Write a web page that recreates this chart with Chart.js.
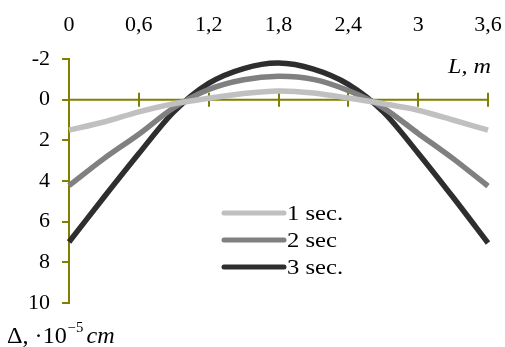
<!DOCTYPE html>
<html>
<head>
<meta charset="utf-8">
<script src="https://cdn.jsdelivr.net/npm/chart.js@4"></script>
<style>
  html, body { margin: 0; padding: 0; background: #fff; }
  #wrap { width: 505px; height: 347px; position: relative; }
</style>
</head>
<body>
<div id="wrap"><canvas id="deflChart"></canvas></div>
<script>
// L, m
const xs = [0, 0.3, 0.6, 0.9, 1.2, 1.5, 1.8, 2.1, 2.4, 2.7, 3.0, 3.3, 3.6];
// deflection, 10^-5 cm
const sec1 = [1.5, 1.1, 0.6, 0.2, -0.07, -0.3, -0.43, -0.33, -0.08, 0.2, 0.52, 1.0, 1.5];
const sec2 = [4.23, 2.9, 1.7, 0.4, -0.5, -0.98, -1.15, -1.0, -0.45, 0.4, 1.66, 2.9, 4.25];
const sec3 = [7.0, 4.8, 2.65, 0.6, -0.8, -1.53, -1.8, -1.5, -0.75, 0.6, 2.63, 4.8, 7.05];
const seriesLabels = ['1 sec.', '2 sec', '3 sec.'];

const xTicks = [0, 0.6, 1.2, 1.8, 2.4, 3, 3.6];
const xTickLabels = ['0', '0,6', '1,2', '1,8', '2,4', '3', '3,6'];
const yTicks = [-2, 0, 2, 4, 6, 8, 10];
const yTickLabels = ['-2', '0', '2', '4', '6', '8', '10'];

const olive = '#808000';
const serif = '"Liberation Serif", "Times New Roman", serif';

Chart.defaults.font.family = serif;
Chart.defaults.color = '#000';

function pts(vals) {
    return xs.map((x, i) => ({ x: x, y: vals[i] }));
}

// text stretched a little wider, like the original
function wideText(ctx, txt, x, y, sx) {
    ctx.save();
    ctx.translate(x, y);
    ctx.scale(sx, 1);
    ctx.fillText(txt, 0, 0);
    const w = ctx.measureText(txt).width * sx;
    ctx.restore();
    return w;
}

// x axis line drawn through y = 0 with crossing ticks
const zeroAxis = {
    id: 'zeroAxis',
    beforeDatasetsDraw(chart) {
        const ctx = chart.ctx;
        const xS = chart.scales.x, yS = chart.scales.y;
        const y0 = yS.getPixelForValue(0);
        ctx.save();
        ctx.strokeStyle = olive;
        ctx.lineWidth = 2;
        ctx.beginPath();
        ctx.moveTo(xS.getPixelForValue(xTicks[0]), y0);
        ctx.lineTo(xS.getPixelForValue(xTicks[xTicks.length - 1]) + 1, y0);
        xTicks.forEach(v => {
            const px = Math.round(xS.getPixelForValue(v));
            ctx.moveTo(px, y0 - 7);
            ctx.lineTo(px, y0 + 7);
        });
        ctx.stroke();
        ctx.restore();
    }
};

// legend inside the plot + axis captions
const captions = {
    id: 'captions',
    afterDraw(chart) {
        const ctx = chart.ctx;
        ctx.save();
        ctx.fillStyle = '#000';
        // legend
        chart.data.datasets.forEach((ds, i) => {
            const y = 213 + i * 27;
            ctx.strokeStyle = ds.borderColor;
            ctx.lineWidth = 5;
            ctx.lineCap = 'round';
            ctx.beginPath();
            ctx.moveTo(224, y);
            ctx.lineTo(284, y);
            ctx.stroke();
            ctx.font = '22px ' + serif;
            ctx.textBaseline = 'middle';
            ctx.textAlign = 'left';
            wideText(ctx, ds.label, 287, y + 1, 1.12);
        });
        // L, m
        ctx.font = 'italic 21px ' + serif;
        ctx.textBaseline = 'alphabetic';
        wideText(ctx, 'L, m', 448, 73, 1.15);
        // Δ,·10^-5 cm
        ctx.font = '23px ' + serif;
        let x = 7;
        const base = 343;
        x += wideText(ctx, '\u0394, \u00b710', x, base, 1.05);
        ctx.font = '14px ' + serif;
        x += wideText(ctx, '\u22125', x + 1, base - 11, 1.05) + 4;
        ctx.font = 'italic 23px ' + serif;
        wideText(ctx, 'cm', x, base, 1.05);
        ctx.restore();
    }
};

const lineStyle = { borderWidth: 5.5, pointRadius: 0, tension: 0.3, fill: false, clip: false };

new Chart(document.getElementById('deflChart'), {
    type: 'line',
    data: {
        datasets: [
            Object.assign({ label: seriesLabels[0], data: pts(sec1), borderColor: '#c0c0c0' }, lineStyle),
            Object.assign({ label: seriesLabels[1], data: pts(sec2), borderColor: '#808080' }, lineStyle),
            Object.assign({ label: seriesLabels[2], data: pts(sec3), borderColor: '#2e2e2e' }, lineStyle)
        ]
    },
    options: {
        responsive: true,
        maintainAspectRatio: false,
        animation: false,
        events: [],
        layout: { padding: { left: 0, right: 17, top: 0, bottom: 44 } },
        plugins: {
            legend: { display: false },
            tooltip: { enabled: false }
        },
        scales: {
            x: {
                type: 'linear',
                position: 'top',
                min: 0,
                max: 3.6,
                afterBuildTicks: s => { s.ticks = xTicks.map(v => ({ value: v })); },
                afterFit: s => { s.height = 59; s.paddingLeft = 0; s.paddingRight = 0; },
                grid: { display: false, drawTicks: false },
                border: { display: false },
                ticks: {
                    padding: 21,
                    font: { size: 22 },
                    maxRotation: 0,
                    autoSkip: false,
                    callback: (v, i) => xTickLabels[i]
                }
            },
            y: {
                type: 'linear',
                reverse: true,
                min: -2,
                max: 10,
                afterBuildTicks: s => { s.ticks = yTicks.map(v => ({ value: v })); },
                afterFit: s => { s.width = 69; s.paddingTop = 0; s.paddingBottom = 0; },
                grid: {
                    drawOnChartArea: false,
                    drawTicks: true,
                    tickLength: 7,
                    color: olive,
                    lineWidth: 2
                },
                border: { display: true, color: olive, width: 2 },
                ticks: {
                    padding: 12,
                    font: { size: 22 },
                    autoSkip: false,
                    callback: (v, i) => yTickLabels[i]
                }
            }
        }
    },
    plugins: [zeroAxis, captions]
});
</script>
</body>
</html>
